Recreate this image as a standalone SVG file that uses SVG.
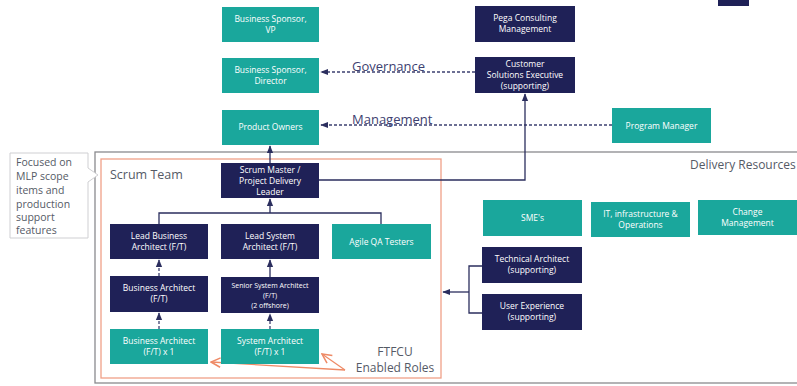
<svg xmlns="http://www.w3.org/2000/svg" width="797" height="386" viewBox="0 0 797 386">
<style>
.teal{fill:#1aa79c}
.navy{fill:#1f2157}
.bt{font-family:"Open Sans","Liberation Sans",sans-serif;font-size:8.5px;fill:#ffffff;text-anchor:middle}
.bs{font-family:"Open Sans","Liberation Sans",sans-serif;font-size:7px;fill:#ffffff;text-anchor:middle}
.lbl{font-family:"Open Sans","Liberation Sans",sans-serif;font-size:13px;fill:#3d4070}
.gl{font-family:"Open Sans","Liberation Sans",sans-serif;fill:#555a66}
.ln{fill:none;stroke:#2b2e5e;stroke-width:1.3}
.dash{fill:none;stroke:#3d4070;stroke-width:1.3;stroke-dasharray:3 2}
.or{fill:none;stroke:#ee8a66;stroke-width:1.3}
</style>
<defs>
<marker id="ah" viewBox="0 0 10 10" refX="9" refY="5" markerWidth="6" markerHeight="6" orient="auto-start-reverse"><path d="M0,1 L10,5 L0,9 z" fill="#2b2e5e"/></marker>
<marker id="oa" viewBox="0 0 10 10" refX="9" refY="5" markerWidth="9" markerHeight="9" orient="auto"><path d="M1,1 L9,5 L1,9" fill="none" stroke="#ee8a66" stroke-width="1.3"/></marker>
</defs>
<rect width="797" height="386" fill="#ffffff"/>

<!-- containers -->
<g id="delivery-resources">
<rect x="95" y="152" width="710" height="231" fill="none" stroke="#8a8a8e" stroke-width="1.3"/>
<text class="gl" x="690" y="169" font-size="12">Delivery Resources</text>
</g>
<g id="scrum-team">
<rect x="101" y="159" width="340" height="219" fill="none" stroke="#f0a088" stroke-width="1.3"/>
<text class="gl" x="110" y="179" font-size="12.5">Scrum Team</text>
</g>
<g id="note">
<path d="M10,153 H88 V168 L98,175 L88,182 V238 H10 Z" fill="#ffffff" stroke="#cfcfd2" stroke-width="1"/>
<text class="gl" font-size="10.5" fill="#4a4f5c"><tspan x="16" y="166">Focused on</tspan><tspan x="16" y="180">MLP scope</tspan><tspan x="16" y="194">items and</tspan><tspan x="16" y="208">production</tspan><tspan x="16" y="221">support</tspan><tspan x="16" y="234">features</tspan></text>
</g>
<g id="corner"><rect x="718" y="0" width="31" height="6" class="navy"/></g>

<!-- connectors -->
<g id="connectors">
<line class="dash" x1="475" y1="72" x2="321" y2="72" marker-end="url(#ah)"/>
<line class="dash" x1="612" y1="125" x2="321" y2="125" marker-end="url(#ah)"/>
<line class="ln" x1="270" y1="163" x2="270" y2="146" marker-end="url(#ah)"/>
<polyline class="ln" points="319,180 525,180 525,94" marker-end="url(#ah)"/>
<polyline class="ln" points="159,224 159,213 381,213 381,224"/>
<line class="ln" x1="270" y1="213" x2="270" y2="199" marker-end="url(#ah)"/>
<line class="dash" x1="159" y1="276" x2="159" y2="260" marker-end="url(#ah)"/>
<line class="ln" x1="270" y1="277" x2="270" y2="260" marker-end="url(#ah)"/>
<line class="dash" x1="159" y1="329" x2="159" y2="313" marker-end="url(#ah)"/>
<line class="dash" x1="270" y1="329" x2="270" y2="314" marker-end="url(#ah)"/>
<polyline class="ln" points="482,266 469,266 469,313 482,313"/>
<line class="ln" x1="469" y1="292" x2="443" y2="292" marker-end="url(#ah)"/>
<line class="or" x1="345" y1="370" x2="211" y2="362" marker-end="url(#oa)"/>
<line class="or" x1="345" y1="370" x2="322" y2="354" marker-end="url(#oa)"/>
<text class="lbl" x="352" y="71">Governance</text>
<text class="lbl" x="352" y="124">Management</text>
<text class="gl" font-size="12" fill="#4a4f5c" text-anchor="middle"><tspan x="395" y="356">FTFCU</tspan><tspan x="395" y="372">Enabled Roles</tspan></text>
</g>

<!-- nodes -->
<g id="bs-vp"><rect class="teal" x="222" y="7" width="97" height="35"/><text class="bt"><tspan x="270.5" y="22">Business Sponsor,</tspan><tspan x="270.5" y="33">VP</tspan></text></g>
<g id="bs-director"><rect class="teal" x="222" y="58" width="97" height="35"/><text class="bt"><tspan x="270.5" y="73">Business Sponsor,</tspan><tspan x="270.5" y="84">Director</tspan></text></g>
<g id="product-owners"><rect class="teal" x="222" y="110" width="97" height="35"/><text class="bt" x="270.5" y="130">Product Owners</text></g>
<g id="pega-consulting"><rect class="navy" x="475" y="6" width="100" height="36"/><text class="bt"><tspan x="525" y="21">Pega Consulting</tspan><tspan x="525" y="32">Management</tspan></text></g>
<g id="cse"><rect class="navy" x="475" y="57" width="100" height="36"/><text class="bt"><tspan x="525" y="67">Customer</tspan><tspan x="525" y="78">Solutions Executive</tspan><tspan x="525" y="89">(supporting)</tspan></text></g>
<g id="program-manager"><rect class="teal" x="612" y="108" width="99" height="35"/><text class="bt" x="661.5" y="129">Program Manager</text></g>
<g id="scrum-master"><rect class="navy" x="221" y="163" width="98" height="35"/><text class="bt"><tspan x="270" y="173">Scrum Master /</tspan><tspan x="270" y="184">Project Delivery</tspan><tspan x="270" y="195">Leader</tspan></text></g>
<g id="lead-ba"><rect class="navy" x="110" y="224" width="98" height="35"/><text class="bt"><tspan x="159" y="239">Lead Business</tspan><tspan x="159" y="250">Architect (F/T)</tspan></text></g>
<g id="lead-sa"><rect class="navy" x="221" y="224" width="98" height="35"/><text class="bt"><tspan x="270" y="239">Lead System</tspan><tspan x="270" y="250">Architect (F/T)</tspan></text></g>
<g id="agile-qa"><rect class="teal" x="332" y="224" width="99" height="35"/><text class="bt" x="381.5" y="245">Agile QA Testers</text></g>
<g id="ba"><rect class="navy" x="110" y="276" width="98" height="36"/><text class="bt"><tspan x="159" y="291">Business Architect</tspan><tspan x="159" y="302">(F/T)</tspan></text></g>
<g id="ssa"><rect class="navy" x="221" y="277" width="98" height="36"/><text class="bs"><tspan x="270" y="288">Senior System Architect</tspan><tspan x="270" y="298">(F/T)</tspan><tspan x="270" y="308">(2 offshore)</tspan></text></g>
<g id="ba-x1"><rect class="teal" x="110" y="329" width="98" height="35"/><text class="bt"><tspan x="159" y="344">Business Architect</tspan><tspan x="159" y="355">(F/T) x 1</tspan></text></g>
<g id="sa-x1"><rect class="teal" x="221" y="329" width="98" height="35"/><text class="bt"><tspan x="270" y="344">System Architect</tspan><tspan x="270" y="355">(F/T) x 1</tspan></text></g>
<g id="smes"><rect class="teal" x="483" y="200" width="99" height="36"/><text class="bt" x="532.5" y="221">SME's</text></g>
<g id="it-infra"><rect class="teal" x="591" y="202" width="99" height="35"/><text class="bt"><tspan x="640.5" y="217">IT, infrastructure &amp;</tspan><tspan x="640.5" y="228">Operations</tspan></text></g>
<g id="change-mgmt"><rect class="teal" x="698" y="200" width="99" height="35"/><text class="bt"><tspan x="747.5" y="215">Change</tspan><tspan x="747.5" y="226">Management</tspan></text></g>
<g id="tech-architect"><rect class="navy" x="482" y="247" width="100" height="36"/><text class="bt"><tspan x="532" y="262">Technical Architect</tspan><tspan x="532" y="273">(supporting)</tspan></text></g>
<g id="user-experience"><rect class="navy" x="482" y="294" width="100" height="36"/><text class="bt"><tspan x="532" y="309">User Experience</tspan><tspan x="532" y="320">(supporting)</tspan></text></g>
</svg>
